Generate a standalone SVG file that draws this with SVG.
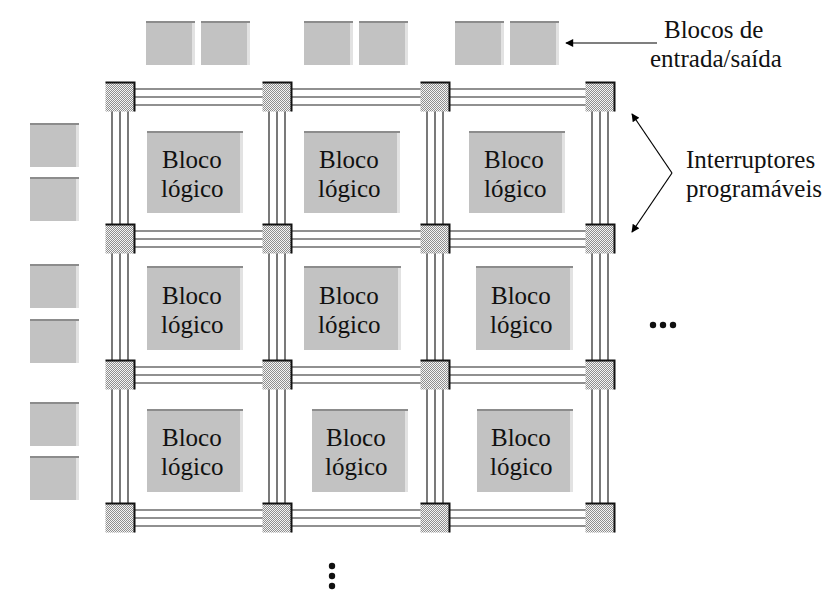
<svg xmlns="http://www.w3.org/2000/svg" width="830" height="598" viewBox="0 0 830 598">
<defs>
<pattern id="chk" width="2" height="2" patternUnits="userSpaceOnUse">
<rect width="2" height="2" fill="#f4f4f4"/>
<rect width="1" height="1" fill="#8e8e8e"/>
<rect x="1" y="1" width="1" height="1" fill="#8e8e8e"/>
</pattern>
<marker id="ah" viewBox="0 0 10 10" refX="9" refY="5" markerWidth="10" markerHeight="8" markerUnits="userSpaceOnUse" orient="auto">
<path d="M0,0 L10,5 L0,10 z" fill="#000"/>
</marker>
<g id="sw">
<rect x="-14.5" y="-14.5" width="29" height="29" fill="url(#chk)"/>
<polyline points="-14.5,-14.5 14.5,-14.5 14.5,14.5" fill="none" stroke="#111" stroke-width="2"/>
</g>
</defs>
<style>
.blk{fill:#c2c2c2}
.top{stroke:#8c8c8c;stroke-width:2}
.rt{stroke:#e2e2e2;stroke-width:3}
.ch{stroke:#222;stroke-width:1.2;fill:none}
.t{font-family:"Liberation Serif","Times New Roman",serif;font-size:25px;fill:#111}
.ar{stroke:#000;stroke-width:1.2;fill:none}
</style>
<rect width="830" height="598" fill="#fff"/>

<g id="connectors">
<g class="ch">
<path d="M112,89V526M120,89V526M128,89V526"/>
<path d="M269,89V526M277,89V526M285,89V526"/>
<path d="M427,89V526M435,89V526M443,89V526"/>
<path d="M592,89V526M600,89V526M608,89V526"/>
<path d="M112,89H608M112,97H608M112,105H608"/>
<path d="M112,231H608M112,239H608M112,247H608"/>
<path d="M112,367H608M112,375H608M112,383H608"/>
<path d="M112,510H608M112,518H608M112,526H608"/>
</g>
<line class="ar" x1="657" y1="43" x2="566" y2="43" marker-end="url(#ah)"/>
<line class="ar" x1="672" y1="173" x2="632" y2="114" marker-end="url(#ah)"/>
<line class="ar" x1="672" y1="173" x2="632" y2="232" marker-end="url(#ah)"/>
</g>

<g id="switches">
<use href="#sw" x="120" y="97"/><use href="#sw" x="277" y="97"/><use href="#sw" x="435" y="97"/><use href="#sw" x="600" y="97"/>
<use href="#sw" x="120" y="239"/><use href="#sw" x="277" y="239"/><use href="#sw" x="435" y="239"/><use href="#sw" x="600" y="239"/>
<use href="#sw" x="120" y="375"/><use href="#sw" x="277" y="375"/><use href="#sw" x="435" y="375"/><use href="#sw" x="600" y="375"/>
<use href="#sw" x="120" y="518"/><use href="#sw" x="277" y="518"/><use href="#sw" x="435" y="518"/><use href="#sw" x="600" y="518"/>
</g>

<g id="io-top">
<g><rect class="blk" x="146" y="21" width="49" height="44"/><line class="top" x1="146" y1="22" x2="195" y2="22"/><line class="rt" x1="193.5" y1="23" x2="193.5" y2="65"/></g>
<g><rect class="blk" x="201" y="21" width="49" height="44"/><line class="top" x1="201" y1="22" x2="250" y2="22"/><line class="rt" x1="248.5" y1="23" x2="248.5" y2="65"/></g>
<g><rect class="blk" x="304" y="21" width="49" height="44"/><line class="top" x1="304" y1="22" x2="353" y2="22"/><line class="rt" x1="351.5" y1="23" x2="351.5" y2="65"/></g>
<g><rect class="blk" x="359" y="21" width="49" height="44"/><line class="top" x1="359" y1="22" x2="408" y2="22"/><line class="rt" x1="406.5" y1="23" x2="406.5" y2="65"/></g>
<g><rect class="blk" x="455" y="21" width="49" height="44"/><line class="top" x1="455" y1="22" x2="504" y2="22"/><line class="rt" x1="502.5" y1="23" x2="502.5" y2="65"/></g>
<g><rect class="blk" x="510" y="21" width="49" height="44"/><line class="top" x1="510" y1="22" x2="559" y2="22"/><line class="rt" x1="557.5" y1="23" x2="557.5" y2="65"/></g>
</g>

<g id="io-left">
<g><rect class="blk" x="30" y="123" width="49" height="44"/><line class="top" x1="30" y1="124" x2="79" y2="124"/><line class="rt" x1="77.5" y1="125" x2="77.5" y2="167"/></g>
<g><rect class="blk" x="30" y="177" width="49" height="44"/><line class="top" x1="30" y1="178" x2="79" y2="178"/><line class="rt" x1="77.5" y1="179" x2="77.5" y2="221"/></g>
<g><rect class="blk" x="30" y="264" width="49" height="44"/><line class="top" x1="30" y1="265" x2="79" y2="265"/><line class="rt" x1="77.5" y1="266" x2="77.5" y2="308"/></g>
<g><rect class="blk" x="30" y="319" width="49" height="44"/><line class="top" x1="30" y1="320" x2="79" y2="320"/><line class="rt" x1="77.5" y1="321" x2="77.5" y2="363"/></g>
<g><rect class="blk" x="30" y="402" width="49" height="44"/><line class="top" x1="30" y1="403" x2="79" y2="403"/><line class="rt" x1="77.5" y1="404" x2="77.5" y2="446"/></g>
<g><rect class="blk" x="30" y="456" width="49" height="44"/><line class="top" x1="30" y1="457" x2="79" y2="457"/><line class="rt" x1="77.5" y1="458" x2="77.5" y2="500"/></g>
</g>

<g id="lb11"><rect class="blk" x="147" y="131" width="96" height="82"/><line class="top" x1="147" y1="132" x2="243" y2="132"/><line class="rt" x1="241.5" y1="133" x2="241.5" y2="213"/><text class="t" x="162" y="168">Bloco</text><text class="t" x="161" y="197">lógico</text></g>
<g id="lb12"><rect class="blk" x="304" y="131" width="96" height="82"/><line class="top" x1="304" y1="132" x2="400" y2="132"/><line class="rt" x1="398.5" y1="133" x2="398.5" y2="213"/><text class="t" x="319" y="168">Bloco</text><text class="t" x="318" y="197">lógico</text></g>
<g id="lb13"><rect class="blk" x="469" y="131" width="96" height="82"/><line class="top" x1="469" y1="132" x2="565" y2="132"/><line class="rt" x1="563.5" y1="133" x2="563.5" y2="213"/><text class="t" x="484" y="168">Bloco</text><text class="t" x="484" y="197">lógico</text></g>

<g id="lb21"><rect class="blk" x="147" y="266" width="96" height="84"/><line class="top" x1="147" y1="267" x2="243" y2="267"/><line class="rt" x1="241.5" y1="268" x2="241.5" y2="350"/><text class="t" x="162" y="304">Bloco</text><text class="t" x="161" y="333">lógico</text></g>
<g id="lb22"><rect class="blk" x="304" y="266" width="97" height="84"/><line class="top" x1="304" y1="267" x2="401" y2="267"/><line class="rt" x1="399.5" y1="268" x2="399.5" y2="350"/><text class="t" x="319" y="304">Bloco</text><text class="t" x="318" y="333">lógico</text></g>
<g id="lb23"><rect class="blk" x="476" y="266" width="97" height="84"/><line class="top" x1="476" y1="267" x2="573" y2="267"/><line class="rt" x1="571.5" y1="268" x2="571.5" y2="350"/><text class="t" x="491" y="304">Bloco</text><text class="t" x="490" y="333">lógico</text></g>

<g id="lb31"><rect class="blk" x="147" y="409" width="96" height="83"/><line class="top" x1="147" y1="410" x2="243" y2="410"/><line class="rt" x1="241.5" y1="411" x2="241.5" y2="492"/><text class="t" x="162" y="446">Bloco</text><text class="t" x="161" y="475">lógico</text></g>
<g id="lb32"><rect class="blk" x="312" y="409" width="96" height="83"/><line class="top" x1="312" y1="410" x2="408" y2="410"/><line class="rt" x1="406.5" y1="411" x2="406.5" y2="492"/><text class="t" x="326" y="446">Bloco</text><text class="t" x="325" y="475">lógico</text></g>
<g id="lb33"><rect class="blk" x="477" y="409" width="96" height="83"/><line class="top" x1="477" y1="410" x2="573" y2="410"/><line class="rt" x1="571.5" y1="411" x2="571.5" y2="492"/><text class="t" x="491" y="446">Bloco</text><text class="t" x="490" y="475">lógico</text></g>

<g id="labels">
<text class="t" x="664" y="38">Blocos de</text>
<text class="t" x="650" y="67">entrada/saída</text>
<text class="t" x="686" y="168">Interruptores</text>
<text class="t" x="686" y="197">programáveis</text>
</g>

<g id="ellipses" fill="#111">
<circle cx="653" cy="325" r="3.2"/><circle cx="663" cy="325" r="3.2"/><circle cx="673" cy="325" r="3.2"/>
<circle cx="332" cy="566" r="3.2"/><circle cx="332" cy="576" r="3.2"/><circle cx="332" cy="586" r="3.2"/>
</g>
</svg>
